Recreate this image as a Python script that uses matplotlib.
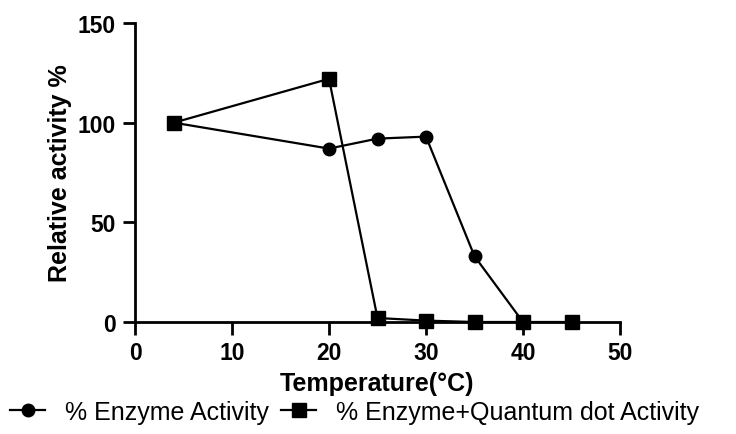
import matplotlib.pyplot as plt

plt.rcParams['font.family'] = ['Liberation Sans', 'DejaVu Sans']

# Data
temp_enzyme = [4, 20, 25, 30, 35, 40]
enzyme = [100, 87, 92, 93, 33, 0]
temp_qd = [4, 20, 25, 30, 35, 40, 45]
enzyme_qd = [100, 122, 2, 0.7, 0, 0, 0]

fig = plt.figure(figsize=(7.36, 4.35), dpi=100)
ax = fig.add_axes([135 / 736, 1 - 323 / 435, 485 / 736, 299 / 435])

ax.plot(temp_enzyme, enzyme, color='black', lw=1.6, marker='o', ms=9,
        label='% Enzyme Activity', clip_on=False, zorder=3)
ax.plot(temp_qd, enzyme_qd, color='black', lw=1.6, marker='s', ms=9.5,
        label='% Enzyme+Quantum dot Activity', clip_on=False, zorder=4)

ax.set_xlim(0, 50)
ax.set_ylim(0, 150)
ax.set_xticks(range(0, 51, 10))
ax.set_yticks([0, 50, 100, 150])

for s in ['top', 'right']:
    ax.spines[s].set_visible(False)
for s in ['left', 'bottom']:
    ax.spines[s].set_linewidth(2)

ax.tick_params(width=2, length=9, labelsize=16.5, pad=5)
for lbl in ax.get_xticklabels() + ax.get_yticklabels():
    lbl.set_fontweight('bold')

ax.set_xlabel('Temperature(°C)', fontsize=18, fontweight='bold', labelpad=5)
ax.set_ylabel('Relative activity %', fontsize=18, fontweight='bold', labelpad=4)

fig.legend(loc='center left', bbox_to_anchor=(10 / 736, 1 - 413 / 435), ncol=2,
           frameon=False, fontsize=18, borderpad=0, borderaxespad=0,
           handlelength=1.4, columnspacing=0.5, handletextpad=0.8)

fig.savefig('out.png', dpi=100)
